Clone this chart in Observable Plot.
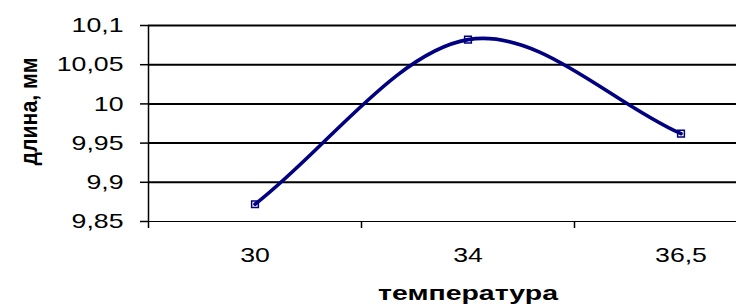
<!DOCTYPE html>
<html><head><meta charset="utf-8">
<script src="https://cdn.jsdelivr.net/npm/d3@7"></script>
<script src="https://cdn.jsdelivr.net/npm/@observablehq/plot@0.6"></script>
<style>body{margin:0;background:#fff}</style>
</head><body><div id="chart"></div>
<script>
const categories = ["30", "34", "36,5"];
const lengths = [9.872, 10.082, 9.962];
const yTicks = [9.85, 9.9, 9.95, 10, 10.05, 10.1];
const yTickLabels = ["9,85", "9,9", "9,95", "10", "10,05", "10,1"];
const xTitle = "температура";
const yTitle = "длина, мм";

const data = categories.map((c, i) => ({i, c, v: lengths[i]}));
const catIndex = categories.map((c, i) => i);
const boundaries = catIndex.map(i => i - 0.5);
const navy = "#000080";

// Excel-like smoothing: Catmull-Rom tangents inside, full-chord tangents at the ends
function excelSmooth(context) {
  let pts = [];
  return {
    areaStart() {}, areaEnd() {},
    lineStart() { pts = []; },
    point(x, y) { pts.push([+x, +y]); },
    lineEnd() {
      const n = pts.length;
      if (!n) return;
      context.moveTo(pts[0][0], pts[0][1]);
      if (n === 1) return;
      const tan = pts.map((p, i) => {
        if (i === 0) return [pts[1][0] - p[0], pts[1][1] - p[1]];
        if (i === n - 1) return [p[0] - pts[i - 1][0], p[1] - pts[i - 1][1]];
        return [(pts[i + 1][0] - pts[i - 1][0]) / 2, (pts[i + 1][1] - pts[i - 1][1]) / 2];
      });
      for (let i = 0; i < n - 1; i++) {
        const a = pts[i], b = pts[i + 1];
        context.bezierCurveTo(a[0] + tan[i][0] / 3, a[1] + tan[i][1] / 3,
                              b[0] - tan[i + 1][0] / 3, b[1] - tan[i + 1][1] / 3, b[0], b[1]);
      }
    }
  };
}

const plot = Plot.plot({
  width: 736, height: 304,
  marginLeft: 148, marginRight: 0, marginTop: 25, marginBottom: 83,
  style: {fontFamily: "'Liberation Sans', Arial, sans-serif", background: "#fff", overflow: "hidden", color: "#000"},
  x: {domain: [-0.5, categories.length - 0.5], range: [148, 787], label: null},
  y: {domain: [yTicks[0], yTicks[yTicks.length - 1]], label: null},
  marks: [
    Plot.ruleY(yTicks.slice(1), {stroke: "#000", strokeWidth: 2}),
    Plot.ruleY([yTicks[0]], {stroke: "#000", strokeWidth: 1}),
    Plot.ruleX([boundaries[0]], {y1: yTicks[0], y2: yTicks[yTicks.length - 1], stroke: "#000", strokeWidth: 1.5}),
    Plot.axisY({ticks: yTicks, tickFormat: d => yTickLabels[yTicks.indexOf(d)], tickSize: 8, tickPadding: 17, fontSize: 21, strokeWidth: 1.5, label: null}),
    Plot.axisX({ticks: boundaries, tickFormat: () => "", tickSize: 7, strokeWidth: 1.5, label: null}),
    Plot.axisX({ticks: catIndex, tickFormat: d => categories[d], tickSize: 0, tickPadding: 26, fontSize: 21, label: null}),
    Plot.line(data, {x: "i", y: "v", stroke: navy, strokeWidth: 3.6, curve: excelSmooth}),
    Plot.dot(data, {x: "i", y: "v", symbol: "square", r: 3.8, stroke: navy, strokeWidth: 1.5, fill: "none"}),
    Plot.text([xTitle], {x: () => (categories.length - 1) / 2, y: () => yTicks[0], dy: 78, text: d => d, lineAnchor: "bottom", fontSize: 20, fontWeight: "bold"}),
    Plot.text([yTitle], {x: () => -0.5, y: () => (yTicks[0] + yTicks[yTicks.length - 1]) / 2, dx: -112, dy: -12, rotate: -90, text: d => d, lineAnchor: "bottom", fontSize: 24, fontWeight: "bold"})
  ]
});
document.getElementById("chart").append(plot);

// the reference's lettering is horizontally stretched; mimic it
function stretch(match, f) {
  d3.select(plot).selectAll("text").each(function() {
    if (!match(this.textContent)) return;
    const w = this.getComputedTextLength();
    this.setAttribute("textLength", f(w));
    this.setAttribute("lengthAdjust", "spacingAndGlyphs");
  });
}
stretch(t => yTickLabels.includes(t) || categories.includes(t), w => w * 1.27);
stretch(t => t === xTitle, () => 180);
stretch(t => t === yTitle, () => 108);
</script>
</body></html>
